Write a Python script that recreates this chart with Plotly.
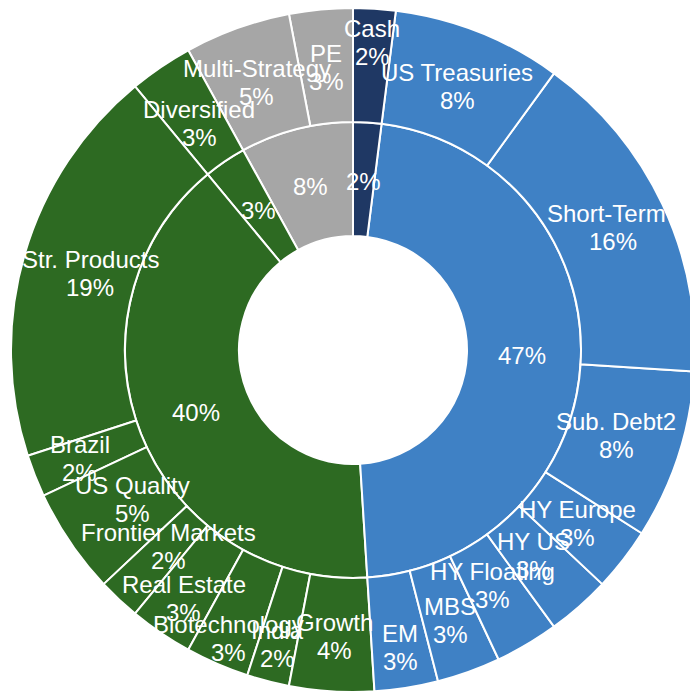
import math
import plotly.graph_objects as go

# ---- data (listed clockwise from 12 o'clock) ----
groups = ["Cash group", "Fixed Income", "Equity", "Multi-Asset", "Alternatives"]
group_colors = ["#1F3864", "#3F81C5", "#2D6A22", "#2D6A22", "#A6A6A6"]

items = ["Cash", "US Treasuries", "Short-Term I", "Sub. Debt2", "HY Europe",
         "HY US", "HY Floating", "MBS", "EM",
         "Growth", "India", "Biotechnology", "Real Estate", "Frontier Markets",
         "US Quality", "Brazil", "Str. Products",
         "Diversified",
         "Multi-Strategy", "PE"]
item_group = ["Cash group"] + ["Fixed Income"] * 8 + ["Equity"] * 8 + ["Multi-Asset"] + ["Alternatives"] * 2
item_values = [2, 8, 16, 8, 3, 3, 3, 3, 3,
               4, 2, 3, 3, 2, 5, 2, 19,
               3,
               5, 3]

# label placement style: radial position of each outer label as a fraction of the outer radius
label_radius = [0.90, 0.83, 0.84, 0.81, 0.83, 0.80, 0.80, 0.84, 0.88,
                0.84, 0.89, 0.92, 0.88, 0.79, 0.78, 0.86, 0.80,
                0.80,
                0.83, 0.83]

# ---- build hierarchy ----
group_values = [sum(v for v, g in zip(item_values, item_group) if g == grp) for grp in groups]
total = sum(group_values)
gcol = dict(zip(groups, group_colors))

# plotly sunburst lays sectors counterclockwise -> feed reversed order
ids = ["root"] + ["g_" + g for g in groups[::-1]] + ["i_" + it for it in items[::-1]]
labels = [""] + groups[::-1] + items[::-1]
parents = [""] + ["root"] * len(groups) + ["g_" + g for g in item_group[::-1]]
values = [total] + group_values[::-1] + item_values[::-1]
colors = ["white"] + group_colors[::-1] + [gcol[g] for g in item_group[::-1]]

# the chart runs slightly past the right edge of the 690px view, as in the reference
W, H = 700, 694
ml, mr, mt, mb = 11, 5, 8, 2
pw, ph = W - ml - mr, H - mt - mb
R = min(pw, ph) / 2
cx, cy = ml + pw / 2, mt + ph / 2

fig = go.Figure(go.Sunburst(
    ids=ids, labels=labels, parents=parents, values=values,
    branchvalues="total", sort=False, rotation=90,
    marker=dict(colors=colors, line=dict(color="white", width=2)),
    leaf=dict(opacity=1),
    textinfo="none", hoverinfo="label+value",
    domain=dict(x=[0, 1], y=[0, 1]),
))

def to_paper(frac_r, cum_mid):
    th = 2 * math.pi * cum_mid / total
    px = cx + frac_r * R * math.sin(th)
    py = cy - frac_r * R * math.cos(th)
    return (px - ml) / pw, 1 - (py - mt) / ph

ann = []
font = dict(family="Liberation Sans, Arial, sans-serif", size=24, color="white")
def add(x, y, text, shift=0):
    ann.append(dict(x=x, y=y, xref="paper", yref="paper", text=text, yshift=shift,
                    showarrow=False, font=font, xanchor="center", yanchor="middle"))

cum = 0
for g, v in zip(groups, group_values):
    x, y = to_paper(0.494, cum + v / 2)
    add(x, y, f"{round(v / total * 100)}%")
    cum += v
cum = 0
for it, v, lr in zip(items, item_values, label_radius):
    x, y = to_paper(lr, cum + v / 2)
    add(x, y, it, 14)
    add(x, y, f"{round(v / total * 100)}%", -14)
    cum += v

fig.update_layout(
    width=W, height=H, margin=dict(l=ml, r=mr, t=mt, b=mb),
    paper_bgcolor="white", plot_bgcolor="white",
    annotations=ann, showlegend=False,
)
fig.write_html("out.html", config={"displayModeBar": False},
               post_script="document.body.style.margin='0';document.body.style.overflow='hidden';")
